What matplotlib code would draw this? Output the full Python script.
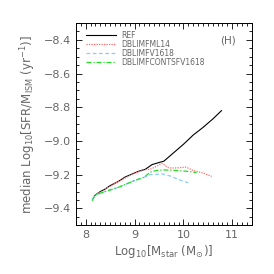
import numpy as np
import matplotlib
matplotlib.use("Agg")
import matplotlib.pyplot as plt
from matplotlib.ticker import MultipleLocator

# median sSFR_gas vs stellar mass
ref_x = [8.18, 8.3, 8.4, 8.5, 8.67, 8.8, 9.0, 9.1, 9.22, 9.36, 9.5, 9.6, 9.8, 10.0, 10.2, 10.4, 10.6, 10.78]
ref_y = [-9.325, -9.30, -9.285, -9.265, -9.24, -9.215, -9.19, -9.178, -9.168, -9.14, -9.128, -9.12,
         -9.07, -9.02, -8.965, -8.92, -8.87, -8.82]

ml14_x = [8.18, 8.4, 8.67, 9.0, 9.22, 9.32, 9.45, 9.56, 9.7, 9.85, 10.05, 10.2, 10.4, 10.58]
ml14_y = [-9.325, -9.285, -9.24, -9.19, -9.17, -9.168, -9.15, -9.132, -9.16, -9.16, -9.155, -9.175, -9.19, -9.21]

v1618_x = [8.13, 8.2, 8.4, 8.67, 9.0, 9.2, 9.32, 9.45, 9.59, 9.73, 9.93, 10.1]
v1618_y = [-9.345, -9.32, -9.30, -9.275, -9.235, -9.215, -9.20, -9.198, -9.196, -9.208, -9.232, -9.248]

csf_x = [8.13, 8.2, 8.4, 8.67, 9.0, 9.2, 9.32, 9.45, 9.6, 9.8, 10.0, 10.14, 10.27]
csf_y = [-9.355, -9.32, -9.30, -9.275, -9.235, -9.215, -9.185, -9.175, -9.172, -9.174, -9.178, -9.182, -9.188]

labels = ["REF", "DBLIMFML14", "DBLIMFV1618", "DBLIMFCONTSFV1618"]

txtcol = "#666666"
plt.rcParams['font.family'] = ['DejaVu Sans']

fig = plt.figure(figsize=(2.74, 2.74), dpi=100)
ax = fig.add_axes([0.277, 0.178, 0.642, 0.738])

ax.plot(ref_x, ref_y, color="black", lw=0.8, ls="-", label=labels[0])
ax.plot(ml14_x, ml14_y, color="#ff6b6b", lw=0.9, ls=(0, (1, 1)), label=labels[1])
ax.plot(v1618_x, v1618_y, color="#87cefa", lw=0.9, ls=(0, (3, 2)), label=labels[2])
ax.plot(csf_x, csf_y, color="#22dd22", lw=0.9, ls=(0, (4, 1.5, 1, 1.5)), label=labels[3])

ax.set_xlim(7.8, 11.4)
ax.set_ylim(-9.5, -8.3)
ax.xaxis.set_major_locator(MultipleLocator(1))
ax.xaxis.set_minor_locator(MultipleLocator(0.1))
ax.yaxis.set_major_locator(MultipleLocator(0.2))
ax.yaxis.set_minor_locator(MultipleLocator(0.05))
ax.tick_params(which="both", direction="in", top=True, right=True, labelsize=8,
               labelcolor=txtcol, width=0.6)
ax.tick_params(which="major", length=4)
ax.tick_params(which="minor", length=2)
for s in ax.spines.values():
    s.set_linewidth(0.7)

ax.set_xlabel(r"Log$_{10}$[M$_{\rm star}$ (M$_{\odot}$)]", fontsize=8.5, color=txtcol, labelpad=2)
ax.set_ylabel(r"median Log$_{10}$[SFR/M$_{\rm ISM}$ (yr$^{-1}$)]", fontsize=8.5, color=txtcol, labelpad=4)

leg = ax.legend(loc="upper left", bbox_to_anchor=(0.06, 0.96), frameon=False, fontsize=5.5,
                handlelength=3.9, handletextpad=0.6, labelspacing=0.0, borderaxespad=0,
                borderpad=0)
for t in leg.get_texts():
    t.set_color(txtcol)

ax.text(0.865, 0.916, "(H)", transform=ax.transAxes, fontsize=7.5, color=txtcol, ha="center", va="center")

fig.savefig("out.png", dpi=100)
